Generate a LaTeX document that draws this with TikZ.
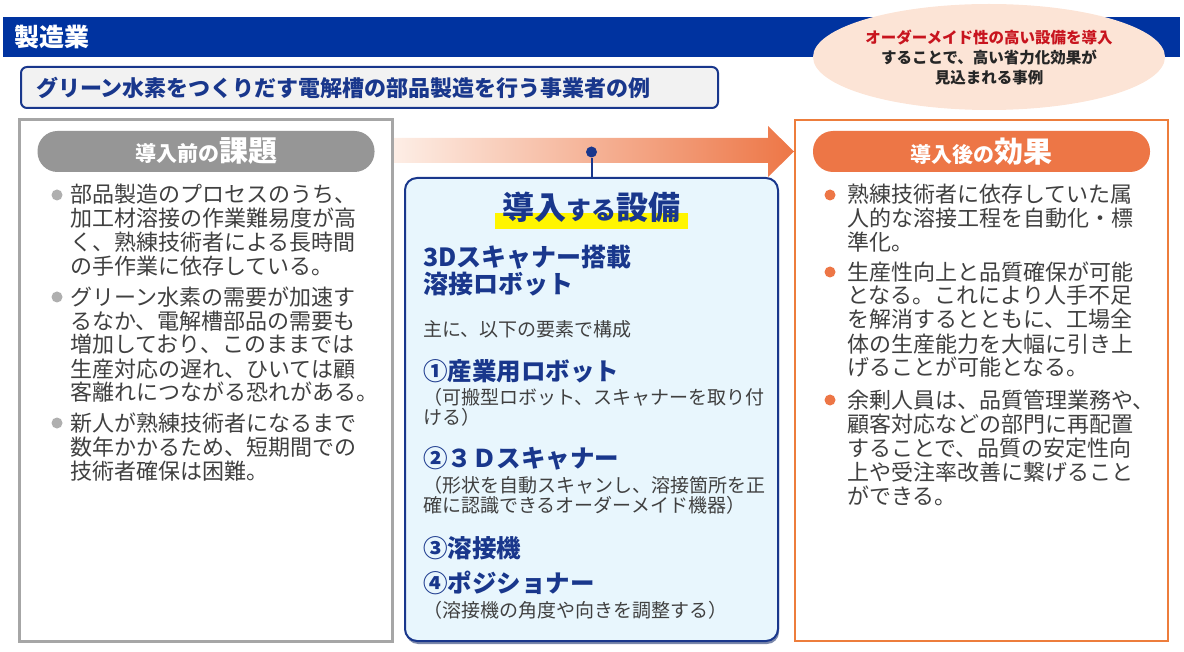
\documentclass[tikz,border=0pt]{standalone}
\usepackage{fontspec}
\setmainfont{Noto Sans CJK JP}
\usetikzlibrary{shapes.geometric,shadows}

\definecolor{hdrblue}{RGB}{0,51,160}
\definecolor{navy}{RGB}{25,55,140}
\definecolor{subgray}{RGB}{242,242,242}
\definecolor{peach}{RGB}{252,228,214}
\definecolor{calloutred}{RGB}{200,20,30}
\definecolor{txtgray}{RGB}{64,64,64}
\definecolor{pillgray}{RGB}{150,150,150}
\definecolor{framegray}{RGB}{166,166,166}
\definecolor{bulgray}{RGB}{175,175,175}
\definecolor{orng}{RGB}{237,118,70}
\definecolor{orngline}{RGB}{237,125,60}
\definecolor{arrowlt}{RGB}{253,238,230}
\definecolor{lightblue}{RGB}{232,246,253}
\definecolor{hlyellow}{RGB}{255,245,0}

\begin{document}
\begin{tikzpicture}[x=1pt,y=-1pt,
  pill/.style={rounded corners=20pt,minimum width=337pt,minimum height=41pt,inner sep=0,text=white,font=\bfseries},
  body/.style={anchor=base west,align=left,inner sep=0,text=txtgray,font=\fontsize{22}{24}\selectfont},
  item/.style={anchor=base west,align=left,inner sep=0,text=navy,font=\bfseries\fontsize{24.5}{27}\selectfont},
  note/.style={anchor=base west,align=left,inner sep=0,text=txtgray,font=\fontsize{19}{20.5}\selectfont}]
\useasboundingbox (0,0) rectangle (1184,652);

% header (multi-line nodes sit on the baseline of their last line)
\fill[hdrblue] (3,17) rectangle (1180,57);
\node[anchor=west,inner sep=0,text=white,font=\bfseries\fontsize{25}{25}\selectfont] (sector) at (14,37) {製造業};
\node[ellipse,fill=peach,minimum width=352pt,minimum height=106pt,inner sep=0,align=center,
  text=black!85,font=\bfseries\fontsize{15.5}{20}\selectfont] (callout) at (989,57)
  {{\color{calloutred}オーダーメイド性の高い設備を導入}\\することで、高い省力化効果が\\見込まれる事例};
\node[draw=navy,line width=2pt,fill=subgray,rounded corners=6pt,anchor=west,minimum height=41pt,
  inner xsep=15pt,inner ysep=0,text width=667pt,align=left,text=navy,
  font=\bfseries\fontsize{22}{22}\selectfont] (case) at (20,87.5)
  {グリーン水素をつくりだす電解槽の部品製造を行う事業者の例};

% arrow
\shade[left color=arrowlt,right color=orng] (393,138) -- (768,138) -- (768,126) -- (794,151.5)
  -- (768,177) -- (768,163) -- (393,163) -- cycle;

% before
\draw[framegray,line width=3pt,fill=white] (19,120) rectangle (392,641);
\node[pill,fill=pillgray] (before) at (206,151.5)
  {\fontsize{21}{21}\selectfont 導入前の\fontsize{29}{29}\selectfont 課題};
\foreach \y in {195,297,423} \fill[bulgray] (57,\y) circle (5.5);
\node[body] (pre1) at (70,275) {部品製造のプロセスのうち、\\加工材溶接の作業難易度が高\\く、熟練技術者による長時間\\の手作業に依存している。};
\node[body] (pre2) at (70,401) {グリーン水素の需要が加速す\\るなか、電解槽部品の需要も\\増加しており、このままでは\\生産対応の遅れ、ひいては顧\\客離れにつながる恐れがある。};
\node[body] (pre3) at (70,479) {新人が熟練技術者になるまで\\数年かかるため、短期間での\\技術者確保は困難。};

% equipment
\node[draw=navy,line width=2pt,fill=lightblue,rounded corners=12pt,minimum width=373pt,
  minimum height=463pt,inner sep=0,
  drop shadow={shadow xshift=1pt,shadow yshift=-3pt,fill=navy!60!gray,opacity=0.7}] (equip) at (591.5,409.5) {};
\node[circle,fill=navy,inner sep=0,minimum size=11pt] (pin) at (591.5,152) {};
\draw[navy,line width=2pt] (pin) -- (equip.north);
\fill[hlyellow] (495,213) rectangle (688,229);
\node[anchor=base,inner sep=0,text=navy,font=\bfseries] (equiptitle) at (591.5,220)
  {\fontsize{32}{32}\selectfont 導入\fontsize{25}{25}\selectfont する\fontsize{32}{32}\selectfont 設備};
\node[item,font=\bfseries\fontsize{25}{27}\selectfont] (robot) at (423,294) {3Dスキャナー搭載\\溶接ロボット};
\node[note] (parts) at (423,337) {主に、以下の要素で構成};
\node[item] (part1) at (423,381) {①産業用ロボット};
\node[note] (part1note) at (423,424.5) {（可搬型ロボット、スキャナーを取り付\\ける）};
\node[item] (part2) at (423,467) {②３Ｄスキャナー};
\node[note] (part2note) at (423,512.5) {（形状を自動スキャンし、溶接箇所を正\\確に認識できるオーダーメイド機器）};
\node[item] (part3) at (423,557) {③溶接機};
\node[item] (part4) at (423,592) {④ポジショナー};
\node[note] (part4note) at (423,617) {（溶接機の角度や向きを調整する）};

% after
\draw[orngline,line width=2.5pt,fill=white] (795,120) rectangle (1168,641);
\node[pill,fill=orng] (after) at (981.5,151.5)
  {\fontsize{21}{21}\selectfont 導入後の\fontsize{29}{29}\selectfont 効果};
\foreach \y in {195,272,400} \fill[orng] (830,\y) circle (5.5);
\node[body] (post1) at (847,251) {熟練技術者に依存していた属\\人的な溶接工程を自動化・標\\準化。};
\node[body] (post2) at (847,376) {生産性向上と品質確保が可能\\となる。これにより人手不足\\を解消するとともに、工場全\\体の生産能力を大幅に引き上\\げることが可能となる。};
\node[body] (post3) at (847,504) {余剰人員は、品質管理業務や、\\顧客対応などの部門に再配置\\することで、品質の安定性向\\上や受注率改善に繋げること\\ができる。};
\end{tikzpicture}
\end{document}
